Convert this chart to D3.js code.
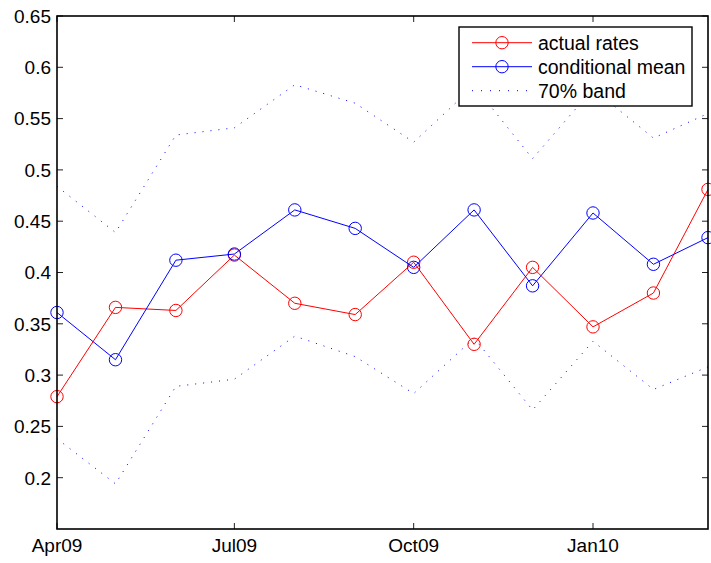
<!DOCTYPE html>
<html>
<head>
<meta charset="utf-8">
<title>Rates</title>
<script src="https://d3js.org/d3.v7.min.js"></script>
<style>
  body { margin: 0; background: #fff; }
  text { font-family: "Liberation Sans", Arial, sans-serif; fill: #000; }
</style>
</head>
<body>
<svg width="711" height="563"></svg>
<script>
// monthly observations, first of each month
const months = ["2009-04", "2009-05", "2009-06", "2009-07", "2009-08", "2009-09",
                "2009-10", "2009-11", "2009-12", "2010-01", "2010-02", "2010-03"]
const actualRates = [0.279, 0.366, 0.363, 0.417, 0.370, 0.359, 0.410, 0.330, 0.405, 0.347, 0.380, 0.481]
const condMean    = [0.361, 0.315, 0.412, 0.418, 0.461, 0.443, 0.405, 0.461, 0.387, 0.458, 0.408, 0.434]
const bandUpper   = [0.484, 0.439, 0.534, 0.541, 0.583, 0.565, 0.527, 0.582, 0.511, 0.579, 0.531, 0.555]
const bandLower   = [0.238, 0.194, 0.289, 0.296, 0.338, 0.318, 0.282, 0.336, 0.266, 0.333, 0.286, 0.308]
const xTickDates  = ["2009-04", "2009-07", "2009-10", "2010-01"]
const yTicks      = [0.2, 0.25, 0.3, 0.35, 0.4, 0.45, 0.5, 0.55, 0.6, 0.65]

const parseMonth = d3.timeParse("%Y-%m")
const fmt = d3.timeFormat("%b%y")
const dates = months.map(parseMonth)

const svg = d3.select("svg")
const margin = { top: 16, right: 3, bottom: 34, left: 57 }
const width = +svg.attr("width") - margin.left - margin.right
const height = +svg.attr("height") - margin.top - margin.bottom

const x = d3.scaleTime().domain(d3.extent(dates)).range([0, width])
const y = d3.scaleLinear().domain([0.15, 0.65]).range([height, 0])

const g = svg.append("g").attr("transform", `translate(${margin.left},${margin.top})`)

// ticks (inside, on all four sides like a boxed plot)
const tickLen = 6
const xt = xTickDates.map(parseMonth)
xt.forEach(d => {
  g.append("line").attr("x1", x(d)).attr("x2", x(d)).attr("y1", height).attr("y2", height - tickLen)
    .attr("stroke", "#222").attr("stroke-width", 1)
  g.append("line").attr("x1", x(d)).attr("x2", x(d)).attr("y1", 0).attr("y2", tickLen)
    .attr("stroke", "#222").attr("stroke-width", 1)
  g.append("text").attr("x", x(d)).attr("y", height + 23)
    .attr("text-anchor", "middle").style("font-size", "19px").text(fmt(d))
})
yTicks.forEach(v => {
  g.append("line").attr("x1", 0).attr("x2", tickLen).attr("y1", y(v)).attr("y2", y(v))
    .attr("stroke", "#222").attr("stroke-width", 1)
  g.append("line").attr("x1", width).attr("x2", width - tickLen).attr("y1", y(v)).attr("y2", y(v))
    .attr("stroke", "#222").attr("stroke-width", 1)
  g.append("text").attr("x", -6).attr("y", y(v)).attr("dy", "0.36em")
    .attr("text-anchor", "end").style("font-size", "19px").text(String(v))
})

const line = (vals) => d3.line().x((d, i) => x(dates[i])).y(d => y(d))(vals)

// 70% band
;[bandUpper, bandLower].forEach(b => {
  g.append("path").attr("d", line(b)).attr("fill", "none")
    .attr("stroke", "#0000ff").attr("stroke-width", 1).attr("stroke-dasharray", "1,7")
})

const series = [
  { name: "actual rates", vals: actualRates, color: "#ff0000" },
  { name: "conditional mean", vals: condMean, color: "#0000ff" }
]
series.forEach(s => {
  g.append("path").attr("d", line(s.vals)).attr("fill", "none")
    .attr("stroke", s.color).attr("stroke-width", 1)
  g.selectAll(null).data(s.vals).join("circle")
    .attr("cx", (d, i) => x(dates[i])).attr("cy", d => y(d)).attr("r", 6.2)
    .attr("fill", "none").attr("stroke", s.color).attr("stroke-width", 1)
})

// axes box
g.append("rect").attr("x", 0).attr("y", 0).attr("width", width).attr("height", height)
  .attr("fill", "none").attr("stroke", "#000").attr("stroke-width", 1.6)

// legend
const lg = svg.append("g").attr("transform", "translate(459,27)")
lg.append("rect").attr("width", 233).attr("height", 79)
  .attr("fill", "#fff").attr("stroke", "#000").attr("stroke-width", 1.4)
const items = [
  { name: "actual rates", color: "#ff0000", dotted: false },
  { name: "conditional mean", color: "#0000ff", dotted: false },
  { name: "70% band", color: "#0000ff", dotted: true }
]
items.forEach((it, i) => {
  const cy = 15.7 + i * 24
  lg.append("line").attr("x1", 13).attr("x2", 73).attr("y1", cy).attr("y2", cy)
    .attr("stroke", it.color).attr("stroke-width", 1)
    .attr("stroke-dasharray", it.dotted ? "1,8" : null)
  if (!it.dotted) {
    lg.append("circle").attr("cx", 43).attr("cy", cy).attr("r", 6.2)
      .attr("fill", "none").attr("stroke", it.color).attr("stroke-width", 1)
  }
  lg.append("text").attr("x", 79).attr("y", cy).attr("dy", "0.36em")
    .style("font-size", "19.5px").text(it.name)
})
</script>
</body>
</html>
